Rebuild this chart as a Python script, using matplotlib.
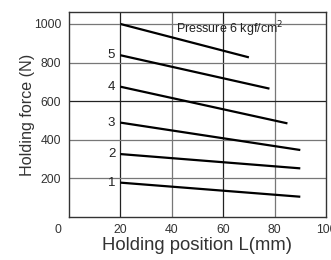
import matplotlib
matplotlib.use("Agg")
import matplotlib.pyplot as plt

plt.rcParams['font.family'] = ['Liberation Sans', 'DejaVu Sans']

# pressure labels and line end points (x in mm, y in N)
labels = ['1', '2', '3', '4', '5', '6']
x_start = [20, 20, 20, 20, 20, 20]
x_end = [90, 90, 90, 85, 78, 70]
y_start = [178, 326, 489, 675, 838, 1000]
y_end = [105, 252, 347, 485, 665, 827]

xticks = [20, 40, 60, 80, 100]
yticks = [200, 400, 600, 800, 1000]

fig = plt.figure(figsize=(3.31, 2.60), dpi=100)
ax = fig.add_axes([69 / 331, 43 / 260, 257 / 331, 205 / 260])

# grid
for x in [20, 40, 60, 80]:
    c = '#222222' if x in (20, 60) else '#777777'
    ax.axvline(x, color=c, lw=0.9, zorder=1)
for y in yticks:
    c = '#222222' if y == 600 else '#777777'
    ax.axhline(y, color=c, lw=0.9, zorder=1)

for lab, xs, xe, ys, ye in zip(labels, x_start, x_end, y_start, y_end):
    ax.plot([xs, xe], [ys, ye], color='black', lw=1.6, solid_capstyle='butt', zorder=3)
    if lab != '6':
        ax.text(xs - 2, ys, lab, ha='right', va='center', fontsize=9.5, color='#222222')

ax.text(41.5, 975, 'Pressure 6 kgf/cm$^2$', fontsize=9, color='#222222', va='center')

ax.set_xlim(0, 100)
ax.set_ylim(0, 1062)
ax.set_xticks(xticks)
ax.set_yticks(yticks)
ax.tick_params(length=0, labelsize=8.8, labelcolor='#333333')
ax.tick_params(axis='x', pad=5)
ax.tick_params(axis='y', pad=5.5)
ax.text(-4.2, -0.035, '0', transform=ax.get_xaxis_transform(), fontsize=8.8,
        color='#333333', ha='center', va='top')
for s in ax.spines.values():
    s.set_color('#333333')
    s.set_linewidth(1.0)

ax.set_xlabel('Holding position L(mm)', fontsize=13.3, color='#333333', labelpad=1)
ax.set_ylabel('Holding force (N)', fontsize=11.6, color='#333333', labelpad=-1)

fig.savefig('out.png', dpi=100)
